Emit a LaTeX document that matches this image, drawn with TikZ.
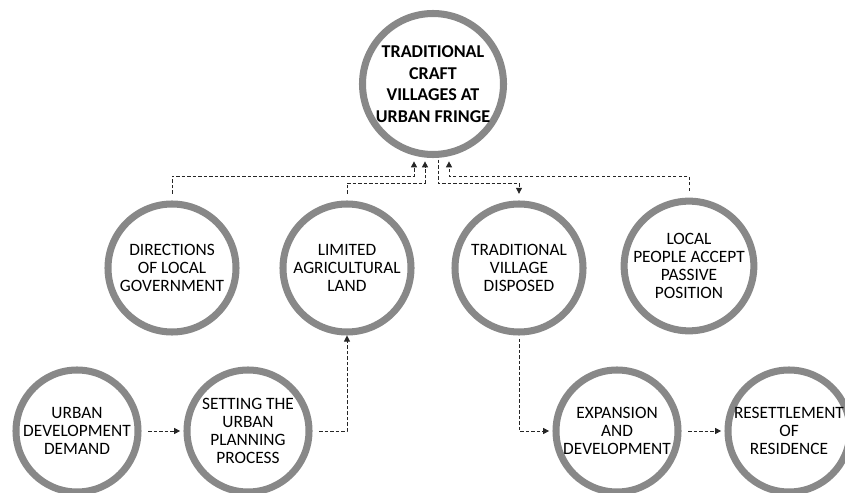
\documentclass[tikz,border=0pt]{standalone}
\usepackage{fontspec}
\setmainfont{Carlito}
\usepackage{tikz}
\usetikzlibrary{arrows.meta,positioning,calc}

\definecolor{ringgray}{RGB}{136,136,136}

\tikzset{
  ring/.style={circle,draw=ringgray,fill=white,line width=6pt,inner sep=0pt,align=center,
    font=\fontsize{14.8}{15.6}\selectfont},
  mainring/.style={ring,minimum size=42.3mm,font=\fontsize{15.4}{18.5}\selectfont\bfseries},
  midring/.style={ring,minimum size=38.4mm},
  lowring/.style={ring,minimum size=36.6mm},
  link/.style={line width=0.8pt,black!85,dash pattern=on 1mm off 0.65mm,
    -{Triangle[length=1.8mm,width=1.8mm]},shorten <=2mm,shorten >=1mm}
}

\begin{document}
\begin{tikzpicture}[x=0.3mm,y=-0.3mm]
\useasboundingbox (0,0) rectangle (845,493);

\node[mainring] (top) at (433,84) {TRADITIONAL\\CRAFT\\VILLAGES AT\\URBAN FRINGE};

\node[midring] (dir) at (172,268) {DIRECTIONS\\OF LOCAL\\GOVERNMENT};
\node[midring] (lim) at (347,268) {LIMITED\\AGRICULTURAL\\LAND};
\node[midring] (trad) at (519,268) {TRADITIONAL\\VILLAGE\\DISPOSED};
\node[midring] (loc) at (689,266) {LOCAL\\PEOPLE ACCEPT\\PASSIVE\\POSITION};

\node[lowring] (urb) at (77,431) {URBAN\\DEVELOPMENT\\DEMAND};
\node[lowring] (set) at (248,431) {SETTING THE\\URBAN\\PLANNING\\PROCESS};
\node[lowring] (exp) at (617,431) {EXPANSION\\AND\\DEVELOPMENT};
\node[lowring] (res) at (789,431) {RESETTLEMENT\\OF\\RESIDENCE};

% bends under the top circle
\coordinate (a1) at (414,176);
\coordinate (a2) at (425,183);
\coordinate (a3) at (438,183);
\coordinate (a4) at (449,176);

\draw[link] (dir.north) |- (a1) -- (a1 |- top.south);
\draw[link] (lim.north) |- (a2) -- (a2 |- top.south);
\draw[link,shorten <=0.5mm,shorten >=2mm] (a3 |- top.south) -- (a3) -| (trad.north);
\draw[link] (loc.north) |- (a4) -- (a4 |- top.south);

% lower row
\draw[link] (urb.east) -- (set.west);
\draw[link,shorten >=0pt] (set.east) -| (lim.south);
\draw[link,shorten <=1mm] (trad.south) |- (exp.west);
\draw[link] (exp.east) -- (res.west);

\end{tikzpicture}
\end{document}
